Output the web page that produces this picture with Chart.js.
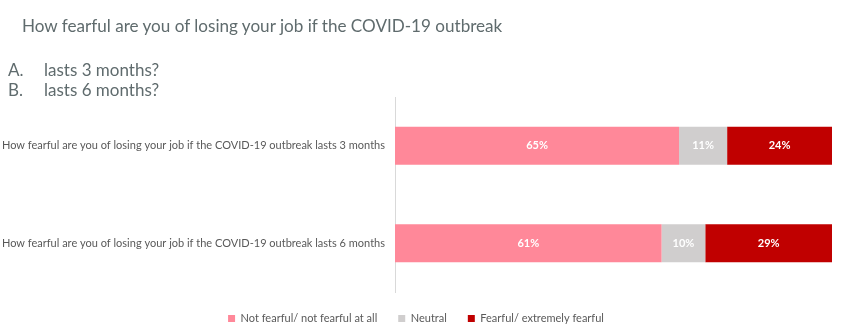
<!DOCTYPE html>
<html>
<head>
<meta charset="utf-8">
<script src="https://cdn.jsdelivr.net/npm/chart.js@4.4.1/dist/chart.umd.min.js"></script>
<style>
  html, body { margin: 0; padding: 0; background: #fff; }
  #wrap { position: relative; width: 866px; height: 336px; }
  #chart { position: absolute; left: 0; top: 0; }
  .txt { position: absolute; font-family: Lato, "Open Sans", sans-serif; color: #5f6b6d; white-space: nowrap; }
  #title { left: 22px; top: 15px; font-size: 17.1px; }
  .opt { left: 8px; font-size: 17px; }
  .opt span { position: absolute; left: 36px; }
</style>
</head>
<body>
<div id="wrap">
  <canvas id="chart" width="866" height="336"></canvas>
  <div class="txt" id="title">How fearful are you of losing your job if the COVID-19 outbreak</div>
  <div class="txt opt" style="top:59px">A.<span>lasts 3 months?</span></div>
  <div class="txt opt" style="top:79px">B.<span>lasts 6 months?</span></div>
</div>
<script>
// chart data
const categories = [
  'How fearful are you of losing your job if the COVID-19 outbreak lasts 3 months',
  'How fearful are you of losing your job if the COVID-19 outbreak lasts 6 months'
];
const seriesNames = ['Not fearful/ not fearful at all', 'Neutral', 'Fearful/ extremely fearful'];
const notFearful = [65, 61];
const neutral = [11, 10];
const fearful = [24, 29];
const seriesColors = ['#FF8899', '#D0CECE', '#C00000'];

// draws the % value in the middle of each bar segment
const barLabels = {
  id: 'barLabels',
  afterDatasetsDraw(chart) {
    const ctx = chart.ctx;
    ctx.save();
    ctx.font = 'bold 11px Lato, "Open Sans", sans-serif';
    ctx.fillStyle = '#ffffff';
    ctx.textAlign = 'center';
    ctx.textBaseline = 'middle';
    chart.data.datasets.forEach((ds, i) => {
      chart.getDatasetMeta(i).data.forEach((bar, j) => {
        const p = bar.getProps(['x', 'y', 'base'], true);
        ctx.fillText(ds.data[j] + '%', (p.x + p.base) / 2, p.y);
      });
    });
    ctx.restore();
  }
};

const values = [notFearful, neutral, fearful];

new Chart(document.getElementById('chart'), {
  type: 'bar',
  data: {
    labels: categories,
    datasets: seriesNames.map((name, i) => ({
      label: name,
      data: values[i],
      backgroundColor: seriesColors[i],
      borderWidth: 0,
      categoryPercentage: 1,
      barPercentage: 0.39
    }))
  },
  options: {
    indexAxis: 'y',
    responsive: false,
    animation: false,
    layout: { padding: { top: 97, right: 34, bottom: 2, left: 0 } },
    scales: {
      x: { stacked: true, min: 0, max: 100, display: false },
      y: {
        stacked: true,
        grid: { display: false, drawTicks: false },
        border: { display: true, color: '#d9d9d9', width: 1 },
        ticks: {
          padding: 10,
          color: '#595959',
          font: { family: 'Lato, "Open Sans", sans-serif', size: 11 }
        },
        afterFit: (scale) => { scale.width = 395; }
      }
    },
    plugins: {
      title: { display: false },
      tooltip: { enabled: false },
      legend: {
        position: 'bottom',
        labels: {
          boxWidth: 7,
          boxHeight: 7,
          padding: 21,
          color: '#595959',
          font: { family: 'Lato, "Open Sans", sans-serif', size: 11 }
        }
      }
    }
  },
  plugins: [barLabels]
});
</script>
</body>
</html>
